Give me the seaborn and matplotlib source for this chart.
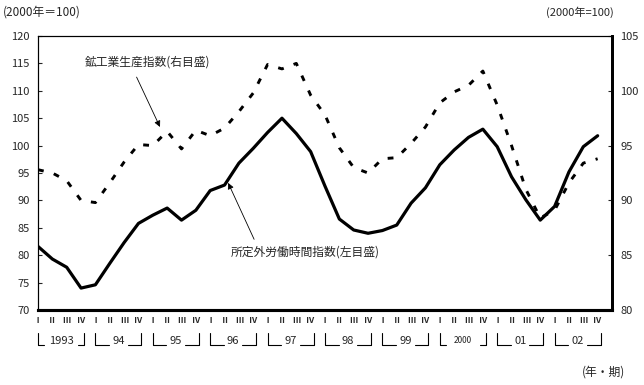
import matplotlib
matplotlib.use("Agg")
import matplotlib.pyplot as plt
import matplotlib.transforms as mtransforms
import seaborn as sns
import pandas as pd
import numpy as np

# ---- data ----
years = ["1993", "94", "95", "96", "97", "98", "99", "2000", "01", "02"]
quarters = ["Ⅰ", "Ⅱ", "Ⅲ", "Ⅳ"]
overtime_hours = [81.6, 79.3, 77.8, 74.0, 74.6, 78.5, 82.3, 85.8, 87.3, 88.6,
                  86.4, 88.2, 91.8, 92.8, 96.8, 99.5, 102.4, 105.0, 102.2, 98.9,
                  92.6, 86.6, 84.6, 84.0, 84.5, 85.5, 89.5, 92.3, 96.5, 99.2,
                  101.5, 103.0, 99.8, 94.3, 90.1, 86.4, 88.9, 95.2, 99.8, 101.8]
industrial_production = [92.8, 92.5, 91.8, 90.0, 89.8, 91.6, 93.5, 95.1, 95.0, 96.3,
                         94.7, 96.4, 95.9, 96.6, 98.1, 99.8, 102.4, 102.0, 102.5, 99.6,
                         97.8, 94.8, 93.0, 92.5, 93.8, 93.9, 95.2, 96.7, 98.9, 99.9,
                         100.5, 101.8, 98.7, 95.0, 91.0, 88.4, 89.1, 91.6, 93.4, 93.8]
left_ticks = [70, 75, 80, 85, 90, 95, 100, 105, 110, 115, 120]
right_ticks = [80, 85, 90, 95, 100, 105]

label_ip = "鉱工業生産指数(右目盛)"
label_ot = "所定外労働時間指数(左目盛)"

n = len(overtime_hours)
df = pd.DataFrame({"t": np.arange(n), "ot": overtime_hours, "ip": industrial_production})
qlabels = [quarters[i % 4] for i in range(n)]

sns.set_theme(style="white")
plt.rcParams["font.family"] = ["Noto Sans CJK JP", "DejaVu Sans"]

fig = plt.figure(figsize=(6.44, 3.85), dpi=100)
ax = fig.add_axes([38 / 644, 1 - 310 / 385, (612 - 38) / 644, (310 - 36) / 385])
ax2 = ax.twinx()

sns.lineplot(data=df, x="t", y="ot", ax=ax, color="black", lw=2.3)
sns.lineplot(data=df, x="t", y="ip", ax=ax2, color="black", lw=2.1,
             linestyle=(0, (2.0, 3.6)))

ax.set_xlim(0, n)
ax.set_ylim(70, 120)
ax2.set_ylim(80, 105)
ax.set_yticks(left_ticks)
ax2.set_yticks(right_ticks)
ax.set_xticks(range(n))
ax.set_xticklabels(qlabels, fontsize=6, fontweight="bold")
for a in (ax, ax2):
    a.set_xlabel("")
    a.set_ylabel("")
ax.tick_params(axis="x", length=0, pad=4)
ax.tick_params(axis="y", direction="in", length=3, width=0.8, labelsize=8, pad=6)
ax2.tick_params(axis="y", direction="in", length=3, width=0.8, labelsize=8, pad=6)

for a in (ax, ax2):
    for s in a.spines.values():
        s.set_color("black")
    a.spines["left"].set_linewidth(0.8)
    a.spines["top"].set_linewidth(0.8)
    a.spines["right"].set_linewidth(2.0)
    a.spines["bottom"].set_linewidth(2.2)
    a.grid(False)

# year brackets
trans = mtransforms.blended_transform_factory(ax.transData, ax.transAxes)
y_top, y_bot, y_txt = -0.084, -0.128, -0.112
for k, yl in enumerate(years):
    xi, xiv = 4 * k, 4 * k + 3 + 0.2
    c = (xi + xiv) / 2
    hw = 1.05 if len(yl) == 4 else 0.5
    fs = 6.0 if yl == "2000" else 8
    ax.plot([xi, xi, c - hw - 0.15], [y_top, y_bot, y_bot], transform=trans,
            color="black", lw=0.8, clip_on=False)
    ax.plot([c + hw + 0.15, xiv, xiv], [y_bot, y_bot, y_top], transform=trans,
            color="black", lw=0.8, clip_on=False)
    ax.text(c, y_txt, yl, transform=trans, ha="center", va="center", fontsize=fs)

# annotations
ax.text(3.27, 115.3, label_ip, fontsize=8.5, ha="left", va="center")
ax.annotate("", xy=(8.5, 103.4), xytext=(6.87, 112.5),
            arrowprops=dict(arrowstyle="-|>", color="black", lw=0.6,
                            mutation_scale=9, shrinkA=0, shrinkB=0))
ax.text(13.44, 80.5, label_ot, fontsize=8.5, ha="left", va="center")
ax.annotate("", xy=(13.25, 93.2), xytext=(15.06, 82.9),
            arrowprops=dict(arrowstyle="-|>", color="black", lw=0.6,
                            mutation_scale=9, shrinkA=0, shrinkB=0))

fig.text(3 / 644, 1 - 12 / 385, "(2000年＝100)", fontsize=8.5, ha="left", va="center")
fig.text(614 / 644, 1 - 12 / 385, "(2000年=100)", fontsize=8, ha="right", va="center")
fig.text(625 / 644, 1 - 372 / 385, "(年・期)", fontsize=8.5, ha="right", va="center")

fig.savefig("out.png", dpi=100)
